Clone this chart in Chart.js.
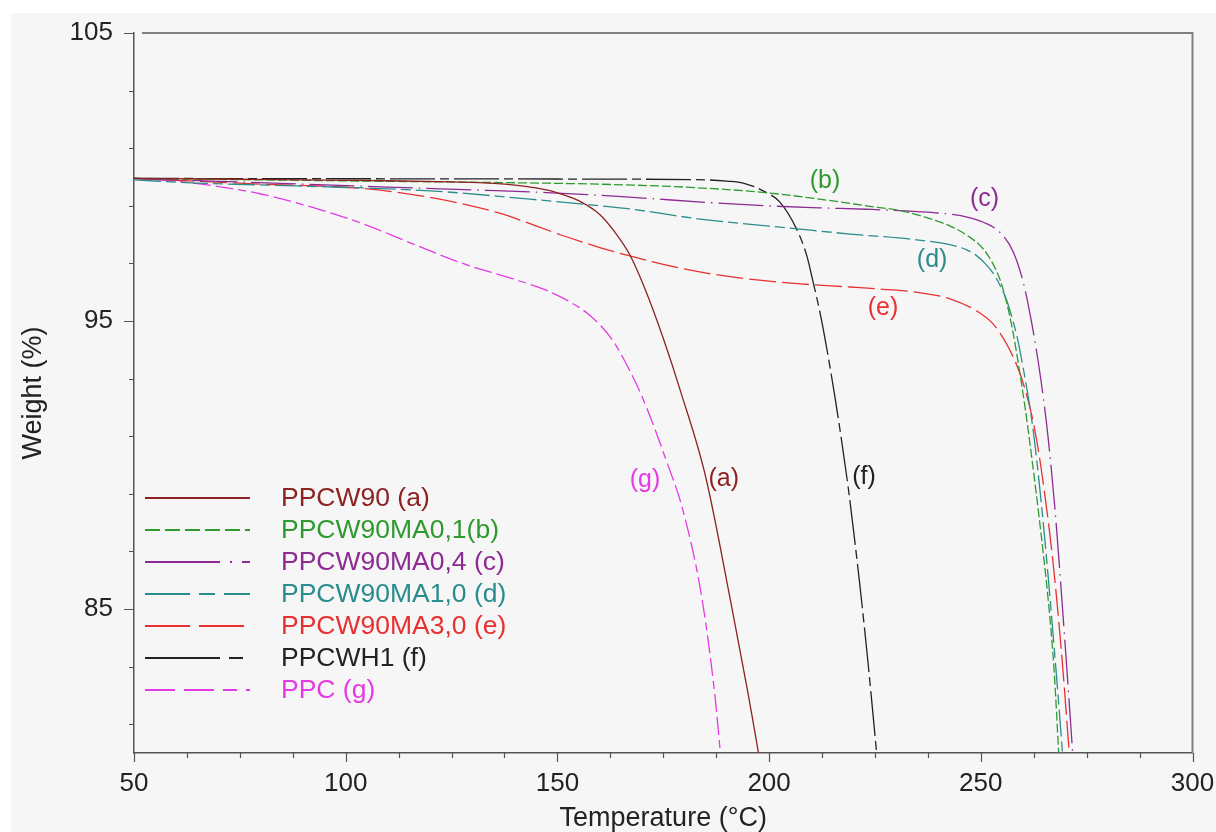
<!DOCTYPE html>
<html><head><meta charset="utf-8">
<script src="https://cdn.jsdelivr.net/npm/chart.js@4/dist/chart.umd.min.js"></script>
<style>html,body{margin:0;padding:0;background:#fff;}canvas{display:block;}</style>
</head><body>
<canvas id="c" width="1216" height="832"></canvas>
<script>
// ---------- data ----------
const seriesNames = ['PPCW90 (a)', 'PPCW90MA0,1(b)', 'PPCW90MA0,4 (c)', 'PPCW90MA1,0 (d)', 'PPCW90MA3,0 (e)', 'PPCWH1 (f)', 'PPC (g)'];

const tA = [50, 70, 90, 110, 125, 135, 140, 145, 150, 155, 160, 163.5, 167.1, 171, 175, 179, 185, 191, 195, 197.5];
const wA = [99.95, 99.93, 99.9, 99.87, 99.83, 99.78, 99.72, 99.62, 99.45, 99.18, 98.7, 98.1, 97.3, 96.0, 94.4, 92.6, 89.6, 85.2, 82.1, 80.0];

const tB = [50, 80, 110, 140, 160, 180, 199, 215, 223, 231, 237, 243, 247, 250.6, 253, 254.5, 256, 257.5, 259, 260.5, 262, 264, 266, 267.3, 268.4];
const wB = [99.95, 99.9, 99.85, 99.8, 99.75, 99.65, 99.46, 99.17, 99.0, 98.83, 98.6, 98.28, 97.95, 97.5, 96.95, 96.45, 95.7, 94.7, 93.4, 91.95, 90.3, 87.9, 85.2, 82.9, 80.0];

const tC = [50, 70, 90, 110, 130, 147.5, 167, 185, 199.4, 212, 223, 235, 242.7, 247, 250.6, 254.5, 257.7, 260.1, 262, 263.6, 264.8, 265.9, 267.5, 270, 271.7];
const wC = [99.95, 99.85, 99.75, 99.65, 99.55, 99.46, 99.3, 99.12, 99.0, 98.93, 98.88, 98.8, 98.71, 98.6, 98.43, 98.08, 97.39, 96.3, 94.95, 93.55, 92.3, 90.95, 88.5, 83.6, 80.0];

const tD = [50, 64.8, 88.4, 119.9, 143.5, 160, 167.1, 183.7, 207.3, 219.1, 234.8, 242.7, 246.7, 249, 251, 252.9, 254.5, 256.1, 257.5, 258.5, 260.1, 261.6, 262.8, 265, 267.7, 269.3];
const wD = [99.9, 99.79, 99.69, 99.52, 99.23, 99.0, 98.89, 98.54, 98.19, 98.02, 97.82, 97.65, 97.47, 97.27, 97.0, 96.66, 96.25, 95.72, 95.05, 94.5, 93.3, 92.0, 90.7, 87.6, 83.0, 80.0];

const tE = [50, 80.5, 104.2, 119.9, 135.7, 151.4, 160, 167.1, 179.9, 191.6, 207.3, 219.1, 227, 234.8, 242.7, 249, 252.9, 256.1, 258.5, 260.1, 262, 263.5, 265, 267, 269, 270.9];
const wE = [99.95, 99.75, 99.6, 99.29, 98.77, 97.96, 97.55, 97.26, 96.81, 96.52, 96.29, 96.18, 96.1, 96.0, 95.77, 95.35, 94.9, 94.2, 93.46, 92.8, 91.75, 90.6, 89.1, 86.7, 83.6, 80.0];

const tF = [50, 100, 150, 185, 190, 193.9, 199.4, 202.6, 206.5, 208.9, 210.4, 212, 213.2, 215.6, 218.7, 221.5, 223.4, 225.4];
const wF = [99.95, 99.94, 99.93, 99.9, 99.86, 99.79, 99.46, 99.12, 98.19, 97.27, 96.35, 95.31, 94.39, 92.31, 89.2, 85.74, 83.08, 80.0];

const tG = [50, 60, 69, 80, 92, 104, 116, 128, 139.6, 147.5, 153, 157.7, 163, 167, 170.5, 175.8, 179.7, 184.1, 187.2, 188.5];
const wG = [99.95, 99.85, 99.69, 99.41, 98.95, 98.38, 97.67, 96.98, 96.46, 96.06, 95.66, 95.19, 94.34, 93.3, 92.2, 90.12, 88.4, 85.4, 82.0, 80.0];

const xLabelValues = [50, 100, 150, 200, 250, 300];
const yTickValues = [81, 83, 85, 87, 89, 91, 93, 95, 97, 99, 101, 103, 105];
const yLabelValues = [85, 95, 105];

const curveLabels = ['(a)', '(b)', '(c)', '(d)', '(e)', '(f)', '(g)'];
const curveLabelT = [189.3, 213.2, 250.9, 238.5, 226.9, 222.4, 170.7];
const curveLabelW = [89.51, 99.85, 99.23, 97.12, 95.46, 89.58, 89.48];

// ---------- styles ----------
const colors = ['#8c2222', '#2e9a2e', '#8d2a94', '#2a8c8c', '#e83030', '#222222', '#e43ae4'];
const dashes = [[], [9, 3], [45, 6, 1.5, 6], [27, 5, 10, 5], [27, 6], [45, 5, 9, 5], [18, 5, 18, 5, 8, 5]];
const legendDashes = [[], [15, 5], [75, 10, 2, 10], [45, 9, 16, 9], [45, 9], [75, 9, 14, 9], [30, 9, 30, 9, 14, 9]];
const FONT = '"Liberation Sans", Arial, sans-serif';

const tArr = [tA, tB, tC, tD, tE, tF, tG];
const wArr = [wA, wB, wC, wD, wE, wF, wG];

const datasets = seriesNames.map((name, i) => ({
  label: name,
  data: tArr[i].map((t, k) => ({x: t, y: wArr[i][k]})),
  borderColor: colors[i],
  borderDash: dashes[i],
  borderWidth: 1.3,
  pointRadius: 0,
  fill: false,
  cubicInterpolationMode: 'monotone'
}));

const decor = {
  id: 'decor',
  beforeDraw(chart) {
    const ctx = chart.ctx;
    ctx.save();
    ctx.fillStyle = '#ffffff';
    ctx.fillRect(0, 0, chart.width, chart.height);
    ctx.fillStyle = '#f6f6f6';
    ctx.fillRect(11, 13, chart.width - 11, chart.height - 13);
    ctx.restore();
  },
  afterDraw(chart) {
    const {ctx, chartArea: ca, scales: {x, y}} = chart;
    ctx.save();
    // tick marks
    ctx.strokeStyle = '#555';
    ctx.lineWidth = 1.2;
    ctx.beginPath();
    x.ticks.forEach(t => {
      const px = Math.round(x.getPixelForValue(t.value)) + 0.5;
      const len = xLabelValues.includes(t.value) ? 9 : 5;
      ctx.moveTo(px, ca.bottom); ctx.lineTo(px, ca.bottom + len);
    });
    y.ticks.forEach(t => {
      const py = Math.round(y.getPixelForValue(t.value)) + 0.5;
      const len = yLabelValues.includes(t.value) ? 10 : 5;
      ctx.moveTo(ca.left, py); ctx.lineTo(ca.left - len, py);
    });
    ctx.stroke();
    // frame top/right
    ctx.strokeStyle = '#808080';
    ctx.lineWidth = 2;
    ctx.beginPath();
    ctx.moveTo(ca.left + 8, ca.top);
    ctx.lineTo(ca.right, ca.top);
    ctx.lineTo(ca.right, ca.bottom);
    ctx.stroke();
    // curve labels
    ctx.font = '25px ' + FONT;
    ctx.textAlign = 'center';
    ctx.textBaseline = 'middle';
    curveLabels.forEach((lab, i) => {
      ctx.fillStyle = colors[i];
      ctx.fillText(lab, x.getPixelForValue(curveLabelT[i]), y.getPixelForValue(curveLabelW[i]));
    });
    // legend
    ctx.font = '26.5px ' + FONT;
    ctx.textAlign = 'left';
    seriesNames.forEach((name, i) => {
      const ry = 498 + i * 32;
      ctx.strokeStyle = colors[i];
      ctx.lineWidth = 2;
      ctx.setLineDash(legendDashes[i]);
      ctx.beginPath();
      ctx.moveTo(145, ry); ctx.lineTo(250, ry);
      ctx.stroke();
      ctx.setLineDash([]);
      ctx.fillStyle = colors[i];
      ctx.fillText(name, 281, ry + 1);
    });
    ctx.restore();
  }
};

new Chart(document.getElementById('c'), {
  type: 'line',
  data: {datasets},
  plugins: [decor],
  options: {
    responsive: false,
    devicePixelRatio: 1,
    animation: false,
    layout: {padding: {top: 33, right: 23.5, left: 0, bottom: 0}},
    plugins: {legend: {display: false}, tooltip: {enabled: false}},
    scales: {
      x: {
        type: 'linear', position: 'bottom', min: 50, max: 300,
        afterFit: s => { s.height = 79; s.paddingLeft = 0; s.paddingRight = 0; },
        grid: {display: true, drawOnChartArea: false, drawTicks: false},
        border: {display: true, color: '#555', width: 1.5},
        ticks: {
          stepSize: 12.5, autoSkip: false, maxRotation: 0, padding: 15,
          color: '#222', font: {family: FONT, size: 26},
          callback: v => xLabelValues.includes(v) ? String(v) : ''
        },
        title: {display: true, text: 'Temperature (°C)', color: '#222',
          font: {family: FONT, size: 27, lineHeight: 1}, padding: {top: 0, bottom: 0}}
      },
      y: {
        type: 'linear', position: 'left', min: 80, max: 105,
        afterFit: s => { s.width = 134; s.paddingTop = 0; s.paddingBottom = 0; },
        afterBuildTicks: s => { s.ticks = yTickValues.map(v => ({value: v})); },
        grid: {display: true, drawOnChartArea: false, drawTicks: false},
        border: {display: true, color: '#555', width: 1.5},
        ticks: {
          autoSkip: false, padding: 21,
          color: '#222', font: {family: FONT, size: 26},
          callback: v => yLabelValues.includes(v) ? String(v) : ''
        },
        title: {display: true, text: 'Weight (%)', color: '#222',
          font: {family: FONT, size: 27, lineHeight: 1.2}, padding: {top: 17, bottom: 0}}
      }
    }
  }
});
</script>
</body></html>
